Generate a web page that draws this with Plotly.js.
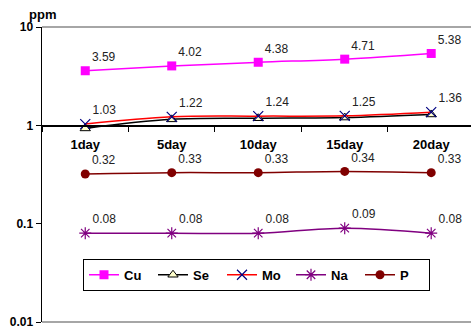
<!DOCTYPE html>
<html><head><meta charset="utf-8">
<script src="https://cdn.plot.ly/plotly-3.0.1.min.js"></script>
<style>html,body{margin:0;padding:0;background:#fff}#c{width:471px;height:330px}</style>
</head><body><div id="c"></div>
<script>
const categories = ["1day","5day","10day","15day","20day"];
const cu = [3.59, 4.02, 4.38, 4.71, 5.38];
const se = [0.93, 1.15, 1.18, 1.20, 1.29];
const mo = [1.03, 1.22, 1.24, 1.25, 1.36];
const na = [0.08, 0.08, 0.08, 0.09, 0.08];
const p  = [0.32, 0.33, 0.33, 0.34, 0.33];
const yTickVals = [0.01, 0.1, 1, 10];
const yTickText = ["0.01", "0.1", "1", "10"];

const fmt = a => a.map(v => v.toFixed(2));
const tf = {family: "Arial, Liberation Sans, sans-serif", size: 12, color: "#222"};
const traces = [
  {name: "Cu", x: categories, y: cu, mode: "lines+markers+text", text: fmt(cu), textposition: "top right", textfont: tf,
   line: {color: "#FF00FF", width: 1.5, shape: "spline"}, marker: {symbol: "square", size: 9, color: "#FF00FF"}},
  {name: "Se", x: categories, y: se, mode: "lines+markers",
   line: {color: "#000000", width: 1.5, shape: "spline"}, marker: {symbol: "triangle-up", size: 9, color: "#FFFFCC", line: {color: "#000", width: 1}}},
  {name: "Mo", x: categories, y: mo, mode: "lines+markers+text", text: fmt(mo), textposition: "top right", textfont: tf,
   line: {color: "#FF0000", width: 1.5, shape: "spline"}, marker: {symbol: "x-thin-open", size: 10, color: "#000080", line: {color: "#000080", width: 1.2}}},
  {name: "Na", x: categories, y: na, mode: "lines+markers+text", text: fmt(na), textposition: "top right", textfont: tf,
   line: {color: "#800080", width: 1.5, shape: "spline"}, marker: {symbol: "asterisk-open", size: 10, color: "#800080", line: {color: "#800080", width: 1.2}}},
  {name: "P", x: categories, y: p, mode: "lines+markers+text", text: fmt(p), textposition: "top right", textfont: tf,
   line: {color: "#800000", width: 1.5, shape: "spline"}, marker: {symbol: "circle", size: 9, color: "#800000"}}
];

const layout = {
  width: 471, height: 330,
  margin: {l: 42, r: 0, t: 27, b: 8},
  paper_bgcolor: "#fff", plot_bgcolor: "#fff",
  showlegend: true,
  legend: {orientation: "h", x: 0.5, xanchor: "center", y: 0.16, yanchor: "middle",
    bordercolor: "#000", borderwidth: 1, bgcolor: "#fff",
    font: {family: "Arial, Liberation Sans, sans-serif", size: 13, color: "#000", weight: "bold"},
    entrywidth: 24, entrywidthmode: "pixels", tracegroupgap: 0},
  xaxis: {type: "category", range: [-0.5, 4.46], anchor: "free", position: 2/3,
    showline: true, linecolor: "#000", linewidth: 1.5, showgrid: false, zeroline: false,
    ticks: "outside", tickson: "boundaries", ticklen: 5, tickcolor: "#000", ticklabelstandoff: 7,
    tickfont: {family: "Arial, Liberation Sans, sans-serif", size: 13, color: "#000", weight: "bold"}},
  yaxis: {type: "log", range: [-2, 1], tickvals: yTickVals, ticktext: yTickText,
    showline: true, linecolor: "#000", linewidth: 1.5, showgrid: false, zeroline: false,
    ticks: "outside", ticklen: 5, tickcolor: "#000",
    tickfont: {family: "Arial, Liberation Sans, sans-serif", size: 12, color: "#000", weight: "bold"}},
  shapes: [
    {type: "line", xref: "paper", yref: "paper", x0: 0, x1: 1, y0: 1, y1: 1, line: {color: "#888", width: 1.5}},
    {type: "line", xref: "paper", yref: "paper", x0: 0, x1: 1, y0: 0, y1: 0, line: {color: "#888", width: 1.5}}
  ],
  annotations: [
    {text: "ppm", xref: "paper", yref: "paper", x: 0, y: 1.0, xanchor: "center", yanchor: "bottom", yshift: 3,
     showarrow: false, font: {family: "Arial, Liberation Sans, sans-serif", size: 13, color: "#000", weight: "bold"}}
  ]
};
Plotly.newPlot("c", traces, layout, {displayModeBar: false, staticPlot: true});
</script></body></html>
